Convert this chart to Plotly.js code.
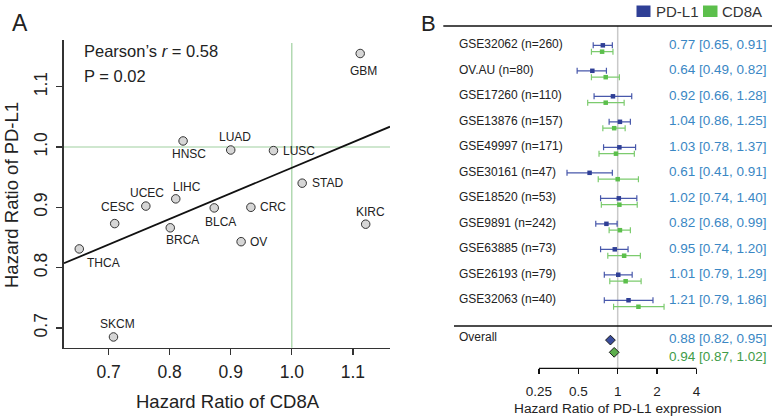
<!DOCTYPE html>
<html>
<head>
<meta charset="utf-8">
<script src="https://cdn.plot.ly/plotly-3.0.1.min.js"></script>
<style>html,body{margin:0;padding:0;background:#fff;}#chart{width:773px;height:416px;}</style>
</head>
<body>
<div id="chart"></div>
<script>
// ---------- Panel A data ----------
const cancers = ['GBM','HNSC','LUAD','LUSC','STAD','LIHC','UCEC','BLCA','CRC','KIRC','CESC','BRCA','OV','THCA','SKCM'];
const hrCD8A  = [1.112,0.822,0.900,0.970,1.017,0.810,0.761,0.873,0.933,1.121,0.710,0.801,0.917,0.652,0.708];
const hrPDL1  = [1.155,1.010,0.995,0.994,0.940,0.914,0.902,0.899,0.900,0.872,0.873,0.866,0.843,0.831,0.685];
const pearsonR = '0.58';
const pearsonP = '0.02';
const ticksA_x = [0.7,0.8,0.9,1.0,1.1];
const ticksA_y = [0.7,0.8,0.9,1.0,1.1];

// ---------- Panel B data ----------
const studies = ['GSE32062 (n=260)','OV.AU (n=80)','GSE17260 (n=110)','GSE13876 (n=157)','GSE49997 (n=171)',
                 'GSE30161 (n=47)','GSE18520 (n=53)','GSE9891 (n=242)','GSE63885 (n=73)','GSE26193 (n=79)','GSE32063 (n=40)'];
const pdHR = [0.77,0.64,0.92,1.04,1.03,0.61,1.02,0.82,0.95,1.01,1.21];
const pdLo = [0.65,0.49,0.66,0.86,0.78,0.41,0.74,0.68,0.74,0.79,0.79];
const pdHi = [0.91,0.82,1.28,1.25,1.37,0.91,1.40,0.99,1.20,1.29,1.86];
const cdHR = [0.76,0.81,0.81,0.94,0.97,1.00,1.03,1.04,1.12,1.15,1.44];
const cdLo = [0.63,0.63,0.59,0.77,0.72,0.71,0.75,0.86,0.84,0.87,0.93];
const cdHi = [0.92,1.03,1.12,1.14,1.34,1.44,1.41,1.25,1.49,1.51,2.26];
const overallPD = [0.88,0.82,0.95];
const overallCD = [0.94,0.87,1.02];
const ticksB = [0.25,0.5,1,2,4];
const ticksB_text = ['0.25','0.5','1','2','4'];

// ---------- styles ----------
const FONT = 'Liberation Sans, Arial, Helvetica, sans-serif';
const INK = '#222';
const BLUE = '#2f3f96', BLUE_L = '#4858ab';
const GREEN = '#5cbf4c', GREEN_L = '#7ccb6e';
const TXT_BLUE = '#3a87c4', TXT_GREEN = '#3f9c48';
// label placement per point: [anchor, dx px, dy px (down positive)]
const labelPos = [['center',3,17],['center',6,13],['center',4,-13],['left',8,0],['left',8,0],['center',11,-12],
                  ['center',1,-13],['center',6,14],['left',7.5,0],['center',5,-12],['center',3,-16.5],['center',12.5,12.5],
                  ['left',7,0],['center',24,14],['center',4,-13]];

const W = 773, H = 416;
const px = v => v / W;          // pixel -> paper x
const py = v => 1 - v / H;      // pixel -> paper y

const xRangeA = [0.627, 1.1608];
const yRangeA = [0.6672, 1.1774];

// OLS fit of PD-L1 HR on CD8A HR
const n = hrCD8A.length;
const mx = hrCD8A.reduce((a,b)=>a+b,0)/n, my = hrPDL1.reduce((a,b)=>a+b,0)/n;
let sxy = 0, sxx = 0;
for (let i=0;i<n;i++){ sxy += (hrCD8A[i]-mx)*(hrPDL1[i]-my); sxx += (hrCD8A[i]-mx)**2; }
const slope = sxy/sxx, icpt = my - slope*mx;

// row positions in panel B
const rowIdx = studies.map((s,i)=>i);
const ROW_OVERALL = 11.49;

const traces = [
  {x: xRangeA, y: xRangeA.map(v=>icpt+slope*v), type:'scatter', mode:'lines',
   line:{color:'#111', width:1.8}, xaxis:'x', yaxis:'y', hoverinfo:'skip'},
  {x: hrCD8A, y: hrPDL1, text: cancers, type:'scatter', mode:'markers', xaxis:'x', yaxis:'y',
   marker:{size:8.5, color:'#d6d6d6', line:{color:'#333', width:1}}},
  // PD-L1 per-study
  {x: pdHR, y: rowIdx.map(i=>i+0.04), type:'scatter', mode:'markers', xaxis:'x2', yaxis:'y2', name:'PD-L1',
   marker:{symbol:'square', size:4.5, color:BLUE},
   error_x:{type:'data', symmetric:false, array: pdHi.map((h,i)=>h-pdHR[i]), arrayminus: pdLo.map((l,i)=>pdHR[i]-l),
            color:BLUE_L, thickness:1.2, width:3}},
  // CD8A per-study
  {x: cdHR, y: rowIdx.map(i=>i+0.29), type:'scatter', mode:'markers', xaxis:'x2', yaxis:'y2', name:'CD8A',
   marker:{symbol:'square', size:4.5, color:GREEN},
   error_x:{type:'data', symmetric:false, array: cdHi.map((h,i)=>h-cdHR[i]), arrayminus: cdLo.map((l,i)=>cdHR[i]-l),
            color:GREEN_L, thickness:1.2, width:3}},
  // overall diamonds
  {x:[overallPD[0]], y:[11.60], type:'scatter', mode:'markers', xaxis:'x2', yaxis:'y2',
   marker:{symbol:'diamond', size:7.5, color:'#3a4c9c', line:{color:'#1a1a1a', width:1}}},
  {x:[overallCD[0]], y:[12.08], type:'scatter', mode:'markers', xaxis:'x2', yaxis:'y2',
   marker:{symbol:'diamond', size:7.5, color:'#5dae4c', line:{color:'#1a1a1a', width:1}}}
];

const annotations = [];
// panel letters
annotations.push({text:'A', xref:'paper', yref:'paper', x:px(20), y:py(23.5), showarrow:false, font:{size:23, color:INK}, xanchor:'center', yanchor:'middle'});
annotations.push({text:'B', xref:'paper', yref:'paper', x:px(429), y:py(23.5), showarrow:false, font:{size:22, color:INK}, xanchor:'center', yanchor:'middle'});
// Pearson
annotations.push({text:'Pearson\u2019s <i>r</i> = ' + pearsonR, xref:'paper', yref:'paper', x:px(82), y:py(51), showarrow:false, font:{size:16.5, color:INK}, xanchor:'left', yanchor:'middle'});
annotations.push({text:'P = ' + pearsonP, xref:'paper', yref:'paper', x:px(82), y:py(76), showarrow:false, font:{size:16.5, color:INK}, xanchor:'left', yanchor:'middle'});
// axis titles A
annotations.push({text:'Hazard Ratio of CD8A', xref:'paper', yref:'paper', x:px(228), y:py(401.5), showarrow:false, font:{size:18.5, color:INK}, xanchor:'center', yanchor:'middle'});
annotations.push({text:'Hazard Ratio of PD-L1', xref:'paper', yref:'paper', x:px(11), y:py(195), showarrow:false, textangle:-90, font:{size:18.5, color:INK}, xanchor:'center', yanchor:'middle'});
// point labels
cancers.forEach((c,i)=>{
  const p = labelPos[i];
  annotations.push({text:c, x:hrCD8A[i], y:hrPDL1[i], xref:'x', yref:'y', showarrow:false,
    xanchor:p[0], yanchor:'middle', xshift:p[1], yshift:-p[2], font:{size:12, color:INK}});
});
// panel B study labels and HR text
studies.forEach((s,i)=>{
  annotations.push({text:s, xref:'paper', yref:'y2', x:px(457), y:i, showarrow:false, xanchor:'left', yanchor:'middle', font:{size:12, color:INK}});
  annotations.push({text: pdHR[i].toFixed(2)+' ['+pdLo[i].toFixed(2)+', '+pdHi[i].toFixed(2)+']', xref:'paper', yref:'y2', x:px(768.5), y:i, showarrow:false, xanchor:'right', yanchor:'middle', font:{size:13.5, color:TXT_BLUE}});
});
annotations.push({text:'Overall', xref:'paper', yref:'y2', x:px(457), y:ROW_OVERALL, showarrow:false, xanchor:'left', yanchor:'middle', font:{size:12, color:INK}});
annotations.push({text: overallPD[0].toFixed(2)+' ['+overallPD[1].toFixed(2)+', '+overallPD[2].toFixed(2)+']', xref:'paper', yref:'y2', x:px(768.5), y:11.53, showarrow:false, xanchor:'right', yanchor:'middle', font:{size:13.5, color:TXT_BLUE}});
annotations.push({text: overallCD[0].toFixed(2)+' ['+overallCD[1].toFixed(2)+', '+overallCD[2].toFixed(2)+']', xref:'paper', yref:'y2', x:px(768.5), y:12.25, showarrow:false, xanchor:'right', yanchor:'middle', font:{size:13.5, color:TXT_GREEN}});
// legend text
annotations.push({text:'PD-L1', xref:'paper', yref:'paper', x:px(653.5), y:py(11.5), showarrow:false, xanchor:'left', yanchor:'middle', font:{size:15, color:'#333'}});
annotations.push({text:'CD8A', xref:'paper', yref:'paper', x:px(720), y:py(11.5), showarrow:false, xanchor:'left', yanchor:'middle', font:{size:15, color:'#333'}});
// axis title B
annotations.push({text:'Hazard Ratio of PD-L1 expression', xref:'paper', yref:'paper', x:px(618), y:py(408.5), showarrow:false, xanchor:'center', yanchor:'middle', font:{size:13.7, color:INK}});

const shapes = [
  // panel A reference lines
  {type:'line', xref:'x', yref:'y domain', x0:1.0, x1:1.0, y0:0, y1:0.99, line:{color:'#9fd09f', width:1.2}, layer:'below'},
  {type:'line', xref:'x domain', yref:'y', x0:0, x1:1, y0:1.0, y1:1.0, line:{color:'#9fd09f', width:1.2}, layer:'below'},
  // panel B rules
  {type:'line', xref:'paper', yref:'paper', x0:px(443.3), x1:px(772), y0:py(26), y1:py(26), line:{color:'#111', width:1.3}},
  {type:'line', xref:'paper', yref:'paper', x0:px(454), x1:px(772), y0:py(326), y1:py(326), line:{color:'#111', width:1.3}},
  {type:'line', xref:'x2', yref:'paper', x0:1, x1:1, y0:py(26), y1:py(369), line:{color:'#c9c9c9', width:1.5}, layer:'below'},
  // panel B axis line
  {type:'line', xref:'x2', yref:'y2 domain', x0:ticksB[0], x1:ticksB[ticksB.length-1], y0:0, y1:0, line:{color:'#111', width:1.3}},
  // legend squares
  {type:'rect', xref:'paper', yref:'paper', x0:px(636.5), x1:px(650.5), y0:py(5.5), y1:py(17), fillcolor:BLUE, line:{width:0}},
  {type:'rect', xref:'paper', yref:'paper', x0:px(703), x1:px(717.5), y0:py(5.5), y1:py(17), fillcolor:GREEN, line:{width:0}}
];

const layout = {
  width:W, height:H, margin:{l:0,r:0,t:0,b:0}, paper_bgcolor:'#fff', plot_bgcolor:'rgba(0,0,0,0)',
  showlegend:false, hovermode:false,
  font:{family:FONT, color:INK},
  xaxis:{domain:[px(64), px(390)], range:xRangeA, anchor:'y', showline:true, linecolor:'#333', linewidth:1.6,
         ticks:'outside', ticklen:6, tickwidth:1.4, tickcolor:'#333', tickvals:ticksA_x, tickformat:'.1f',
         ticklabelstandoff:2, tickfont:{size:17.5, color:INK}, showgrid:false, zeroline:false},
  yaxis:{domain:[py(347.7), py(40)], range:yRangeA, anchor:'x', showline:true, linecolor:'#333', linewidth:1.6,
         ticks:'outside', ticklen:6, tickwidth:1.4, tickcolor:'#333', tickvals:ticksA_y, tickformat:'.1f', tickangle:-90,
         ticklabelstandoff:2, tickfont:{size:17.5, color:INK}, showgrid:false, zeroline:false},
  xaxis2:{domain:[px(443.3), px(771.7)], type:'log', range:[-1.3323, 1.1765], anchor:'y2', showline:false,
          ticks:'outside', ticklen:5, tickwidth:1.3, tickcolor:'#111', tickvals:ticksB, ticktext:ticksB_text,
          ticklabelstandoff:5, tickfont:{size:13.5, color:INK}, showgrid:false, zeroline:false},
  yaxis2:{domain:[py(368.3), 1], range:[12.706, -1.737], anchor:'x2', visible:false, showgrid:false, zeroline:false},
  annotations:annotations, shapes:shapes
};

Plotly.newPlot('chart', traces, layout, {staticPlot:true, displayModeBar:false});
</script>
</body>
</html>
